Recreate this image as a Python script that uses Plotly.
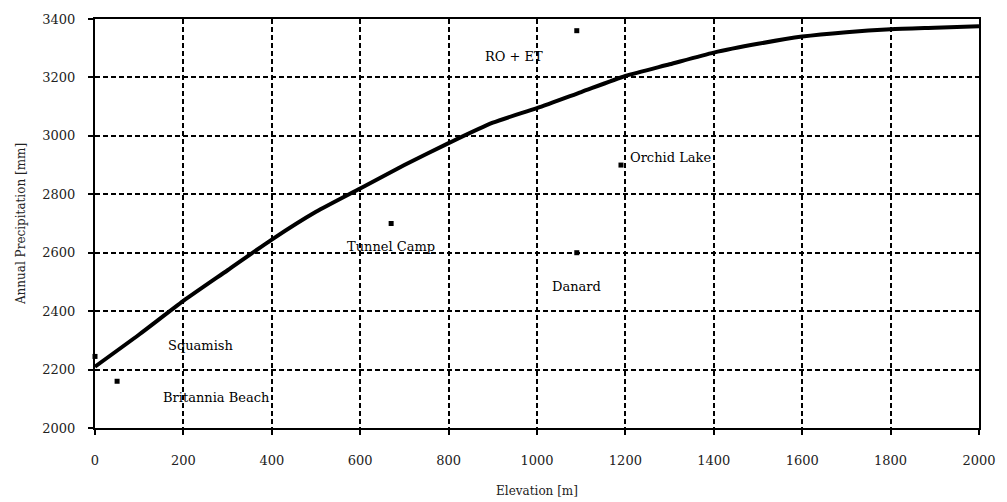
import plotly.graph_objects as go

# Regional precipitation-elevation relationship (mm vs m)
curve_elev = [0, 100, 200, 300, 400, 500, 600, 700, 800, 900, 1000, 1100,
              1200, 1300, 1400, 1500, 1600, 1700, 1800, 1900, 2000]
curve_precip = [2210, 2320, 2435, 2540, 2645, 2740, 2820, 2900, 2975, 3045,
                3095, 3150, 3205, 3245, 3285, 3315, 3340, 3355, 3365, 3370, 3375]

# Station observations
station_elev = [0, 50, 670, 1090, 1190, 1090]
station_precip = [2245, 2160, 2700, 2600, 2900, 3360]

# Station names and where they are written
label_text = ["RO + ET", "Orchid Lake", "Tunnel Camp", "Danard", "Squamish", "Britannia Beach"]
label_x = [948, 1303, 670, 1090, 240, 274]
label_y = [3270, 2925, 2623, 2486, 2281, 2103]

x_ticks = list(range(0, 2001, 200))
y_ticks = list(range(2000, 3401, 200))

wide_serif = "DejaVu Serif, serif"

fig = go.Figure()
fig.add_trace(go.Scatter(
    x=curve_elev, y=curve_precip, mode="lines",
    line=dict(color="black", width=4, shape="spline", smoothing=0.6),
    showlegend=False, hoverinfo="skip",
))
fig.add_trace(go.Scatter(
    x=station_elev, y=station_precip, mode="markers",
    marker=dict(symbol="square", size=5, color="black"),
    showlegend=False, cliponaxis=False,
))

for t, xx, yy in zip(label_text, label_x, label_y):
    fig.add_annotation(x=xx, y=yy, text=t, showarrow=False,
                       font=dict(family=wide_serif, size=13, color="black"))

axis_common = dict(
    showline=True, linecolor="black", linewidth=2, mirror=True,
    showgrid=True, gridcolor="black", gridwidth=1.5, griddash="5px,3px",
    ticks="outside", ticklen=5, tickwidth=2, tickcolor="black",
    tickfont=dict(family=wide_serif, size=13, color="#222"),
    zeroline=False, automargin=False,
)

fig.update_xaxes(range=[0, 2000], tickvals=x_ticks, ticklabelstandoff=14,
                 title=dict(text="Elevation [m]", font=dict(family=wide_serif, size=12, color="#222"), standoff=20),
                 **axis_common)
fig.update_yaxes(range=[2000, 3400], tickvals=y_ticks, ticklabelstandoff=10,
                 title=dict(text="Annual Precipitation [mm]", font=dict(family=wide_serif, size=12, color="#222"), standoff=14),
                 **axis_common)

fig.update_layout(
    width=1007, height=502,
    margin=dict(l=95, r=28, t=19, b=74),
    plot_bgcolor="white", paper_bgcolor="white",
)

fig.write_html("out.html")
